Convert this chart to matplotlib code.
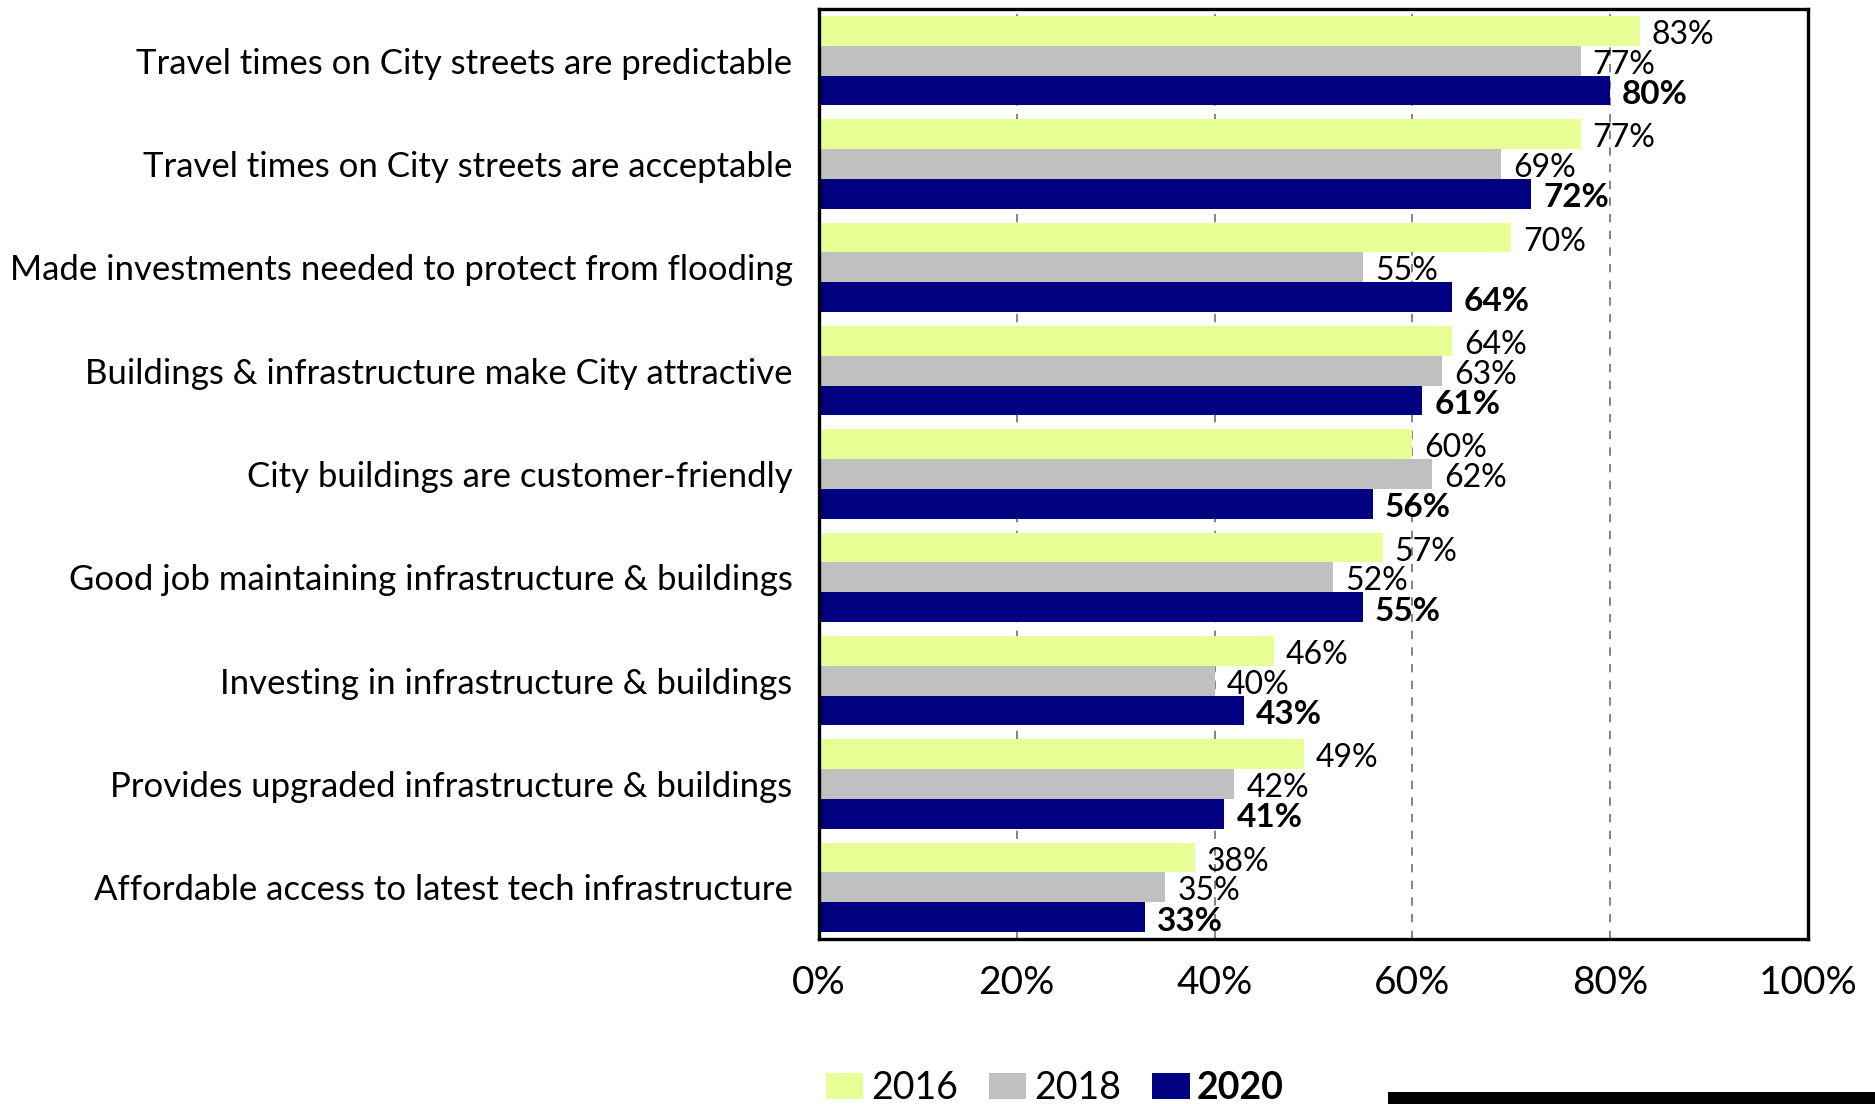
import matplotlib
matplotlib.use("Agg")
import matplotlib.pyplot as plt
import numpy as np
from matplotlib.patches import Patch, Rectangle

plt.rcParams["font.family"] = ["Lato", "DejaVu Sans"]

# Survey items, top to bottom
categories = [
    "Travel times on City streets are predictable",
    "Travel times on City streets are acceptable",
    "Made investments needed to protect from flooding",
    "Buildings & infrastructure make City attractive",
    "City buildings are customer-friendly",
    "Good job maintaining infrastructure & buildings",
    "Investing in infrastructure & buildings",
    "Provides upgraded infrastructure & buildings",
    "Affordable access to latest tech infrastructure",
]
years = ["2016", "2018", "2020"]
values_2016 = [83, 77, 70, 64, 60, 57, 46, 49, 38]
values_2018 = [77, 69, 55, 63, 62, 52, 40, 42, 35]
values_2020 = [80, 72, 64, 61, 56, 55, 43, 41, 33]
xticks = [0, 20, 40, 60, 80, 100]

colors = ["#E8FF96", "#C0C0C0", "#000080"]
series = [values_2016, values_2018, values_2020]

W, H = 1875, 1104
fig = plt.figure(figsize=(W / 100, H / 100), dpi=100)
left, right, top, bottom = 819, 1808, 9, 939
ax = fig.add_axes([left / W, 1 - bottom / H, (right - left) / W, (bottom - top) / H])

y = np.arange(len(categories))
h = 0.2875
for k, (vals, col) in enumerate(zip(series, colors)):
    pos = y + (k - 1) * h
    ax.barh(pos, vals, height=h, color=col, zorder=2)
    bold = k == 2
    for p, v in zip(pos, vals):
        ax.annotate(f"{v}%", (v, p), xytext=(12, -4), textcoords="offset pixels",
                    va="center", ha="left", fontsize=24 if bold else 23,
                    fontweight="bold" if bold else "normal", zorder=3)

ax.set_xlim(0, 100)
ax.set_ylim(len(categories) - 0.5, -0.5)
ax.set_xticks(xticks)
ax.set_xticklabels([f"{t}%" for t in xticks], fontsize=28)
ax.set_yticks(y)
ax.set_yticklabels(categories, fontsize=25)
ax.tick_params(axis="x", length=0, pad=19)
ax.tick_params(axis="y", length=0, pad=19)

ax.grid(axis="x", linestyle=(0, (5, 5)), color="#707070", linewidth=1.2, zorder=0)
ax.set_axisbelow(True)
for s in ax.spines.values():
    s.set_linewidth(2.4)
    s.set_color("black")

handles = [Patch(facecolor=c, edgecolor="none") for c in colors]
leg = fig.legend(handles, years, loc="center", bbox_to_anchor=(1055 / W, 1 - 1088 / H),
                 ncol=3, frameon=False, fontsize=27, handlelength=1.0, handleheight=0.67,
                 handletextpad=0.2, columnspacing=0.83, borderpad=0)
leg.get_texts()[2].set_fontweight("bold")

# black strip at bottom right
fig.add_artist(Rectangle((1388 / W, 0), 1 - 1388 / W, 12 / H, transform=fig.transFigure,
                         facecolor="black", edgecolor="none"))

fig.savefig("out.png", dpi=100, facecolor="white")
